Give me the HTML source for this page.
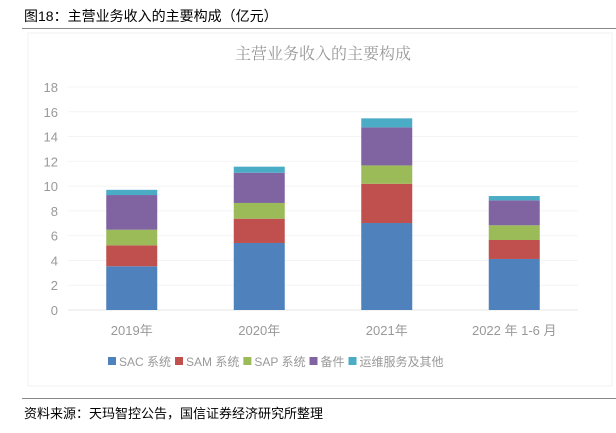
<!DOCTYPE html>
<html><head><meta charset="utf-8"><style>
body{margin:0;width:616px;height:428px;background:#fff;overflow:hidden;font-family:"Liberation Sans","Noto Sans CJK SC",sans-serif;}
</style></head><body>
<svg width="616" height="428" xmlns="http://www.w3.org/2000/svg">
<text x="24" y="21" font-size="14" fill="#000" font-family="Liberation Sans,Noto Sans CJK SC,sans-serif">图18：主营业务收入的主要构成（亿元）</text>
<line x1="22" y1="28.5" x2="616" y2="28.5" stroke="#888" stroke-width="1"/>
<rect x="28" y="33" width="584" height="353" fill="#fff" stroke="#f0f0f0"/>
<text x="323" y="59" font-size="16" fill="#999" text-anchor="middle" font-family="Noto Serif CJK SC,serif">主营业务收入的主要构成</text>
<g id="grid"></g><g id="bars"></g><g id="xl"></g>
<g id="legend" font-size="12" fill="#999"></g>
<line x1="22" y1="398.5" x2="616" y2="398.5" stroke="#888" stroke-width="1"/>
<text x="24" y="418" font-size="13" fill="#000">资料来源：天玛智控公告，国信证券经济研究所整理</text>
</svg>
<script>
const categories=["2019年","2020年","2021年","2022 年 1-6 月"];
const seriesNames=["SAC 系统","SAM 系统","SAP 系统","备件","运维服务及其他"];
const sac=[3.53,5.41,7.02,4.12];
const sam=[1.69,1.96,3.17,1.53];
const sap=[1.26,1.27,1.48,1.19];
const parts=[2.8,2.44,3.07,2.01];
const service=[0.42,0.49,0.73,0.35];
const yTicks=[0,2,4,6,8,10,12,14,16,18];
const series=[sac,sam,sap,parts,service];
const colors=["#4f81bd","#c0504d","#9bbb59","#8064a2","#4bacc6"];
const NS="http://www.w3.org/2000/svg";
const x0=68,x1=578,yb=310,yt=87,ymax=18;
const y=v=>yb-(v/ymax)*(yb-yt);
const band=(x1-x0)/categories.length;
const xc=i=>x0+band*(i+0.5);
function mk(tag,attrs,parent,text){const e=document.createElementNS(NS,tag);for(const k in attrs)e.setAttribute(k,attrs[k]);if(text!==undefined)e.textContent=text;parent.appendChild(e);return e;}
const grid=document.getElementById('grid');
yTicks.forEach(t=>{
 const l=mk('line',{x1:x0,x2:x1,y1:y(t),y2:y(t),stroke:t===0?'#e6e6e6':'#f4f4f4'},grid);
 
 
 const tx=mk('text',{x:58,y:y(t)+5,'font-size':13,fill:'#999','text-anchor':'end'},grid,String(t));
 
 
});
const bars=document.getElementById('bars');
categories.forEach((c,i)=>{
 let acc=0;
 series.forEach((s,j)=>{
  const r=mk('rect',{x:xc(i)-25.5,width:51,y:y(acc+s[i]),height:y(acc)-y(acc+s[i]),fill:colors[j]},bars);
  
  
  acc+=s[i];
 });
 const t=mk('text',{x:xc(i),y:335,'font-size':13,fill:'#999','text-anchor':'middle'},document.getElementById('xl'),c);
 
 
});
const lg=document.getElementById('legend');
let lx=108;
seriesNames.forEach((n,j)=>{
 const r=mk('rect',{x:lx,y:357,width:8,height:8,fill:colors[j]},lg);
 
 
 const t=mk('text',{x:lx+11,y:366},lg,n);
 
 
 lx+=11+t.getComputedTextLength()+4;
});
</script>
</body></html>
